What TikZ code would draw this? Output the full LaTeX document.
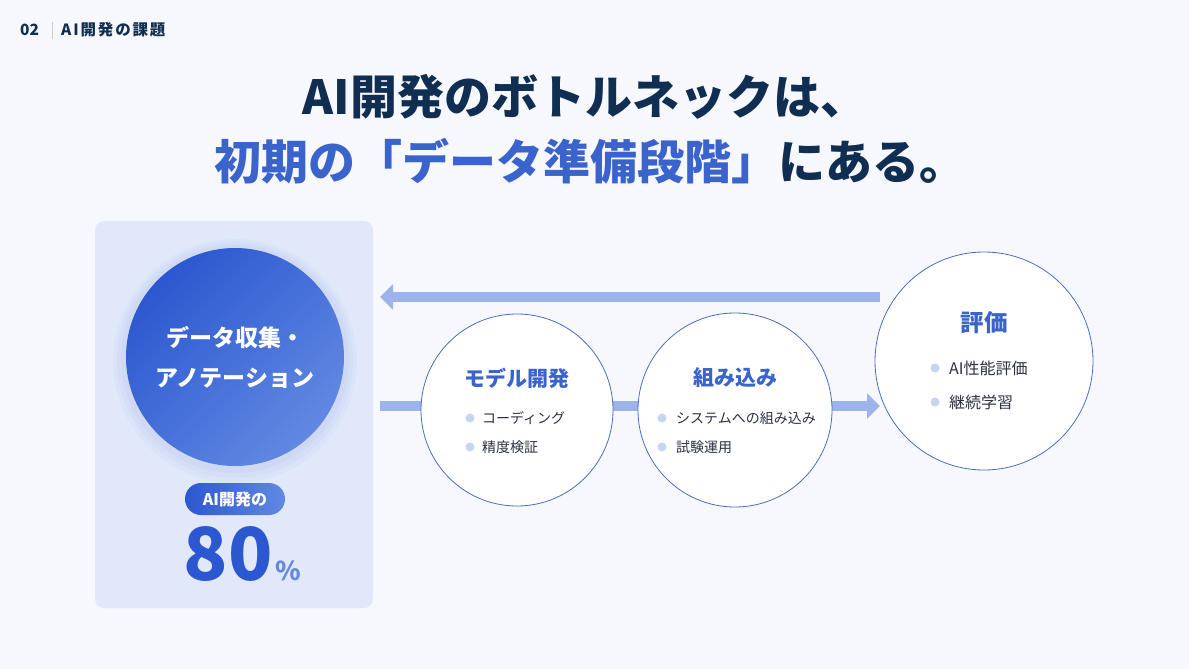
\documentclass[tikz,border=0pt]{standalone}
\usepackage{fontspec}
\setmainfont{Noto Sans CJK JP}
\usetikzlibrary{arrows.meta}

\definecolor{pagebg}{HTML}{F6F8FD}
\definecolor{panelbg}{HTML}{E1E8FA}
\definecolor{navy}{HTML}{102E52}
\definecolor{accent}{HTML}{3A64CB}
\definecolor{deepblue}{HTML}{2B58D0}
\definecolor{lightblue}{HTML}{6189E2}
\definecolor{arrowblue}{HTML}{9CB3EC}
\definecolor{ringblue}{HTML}{4D6DC1}
\definecolor{dotblue}{HTML}{C8D4F3}
\definecolor{pointgray}{HTML}{2C3242}
\definecolor{sepgray}{HTML}{C9CED8}

\begin{document}
\begin{tikzpicture}[x=1pt,y=-1pt]
\tikzset{headtext/.style={text=navy,font=\fontsize{15.5}{18}\selectfont\bfseries,inner sep=0pt}}
\tikzset{titletext/.style={text=navy,font=\fontsize{47}{54}\selectfont\bfseries}}
\tikzset{panel/.style={fill=panelbg,rounded corners=9pt,minimum width=278pt,minimum height=387pt}}
\tikzset{glow/.style={fill=deepblue,opacity=0.03}}
\tikzset{bigcircle/.style={circle,minimum size=218pt,left color=deepblue,right color=lightblue,shading angle=45,text=white,align=center,font=\fontsize{23}{40}\selectfont\bfseries}}
\tikzset{badge/.style={rounded corners=16pt,minimum width=100pt,minimum height=32pt,left color=deepblue,right color=lightblue,text=white,font=\fontsize{16}{18}\selectfont\bfseries}}
\tikzset{stage/.style={circle,draw=ringblue,line width=0.8pt,fill=white}}
\tikzset{stagetitle/.style={text=accent,font=\fontsize{21}{24}\selectfont\bfseries}}
\tikzset{dot/.style={circle,fill=dotblue,inner sep=0pt,minimum size=9pt}}
\tikzset{pointtext/.style={anchor=west,inner sep=0pt,text=pointgray,font=\fontsize{14}{16}\selectfont}}
\tikzset{flowline/.style={line width=10pt,draw=arrowblue}}
\tikzset{flowarrow/.style={flowline,-{Triangle[length=13pt,width=25pt]}}}

\fill[pagebg] (0,0) rectangle (1189,669);
\useasboundingbox (0,0) rectangle (1189,669);

\node[headtext,anchor=west] (secno) at (20,30) {02};
\draw[sepgray,line width=0.8pt] (52,22) -- (52,39);
\node[headtext,anchor=west,font=\fontsize{15.5}{18}\selectfont\bfseries\addfontfeature{LetterSpace=12}] (sectitle) at (61,30) {AI開発の課題};

\node[titletext] (headline) at (585,97) {AI開発のボトルネックは、};
\node[titletext] (subline) at (590,161) {\textcolor{accent}{初期の「データ準備段階」}にある。};

\node[panel] (panel) at (234,414.5) {};
\fill[glow] (235,361) circle (122pt);
\fill[glow] (235,360) circle (118pt);
\fill[glow] (235,359) circle (114pt);
\node[bigcircle] (collect) at (235,357) {データ収集・\\アノテーション};
\node[badge] (share) at (235,499) {AI開発の};
\node[anchor=base east,inner sep=0pt,text=deepblue,font=\fontsize{73}{80}\selectfont\bfseries] (sharenum) at (273,580) {80};
\node[anchor=base west,inner sep=0pt,text=lightblue,font=\fontsize{26}{30}\selectfont\bfseries] (shareunit) at (275,580) {\%};

\coordinate (backstart) at (880,297);
\coordinate (backend) at (380,297);
\coordinate (flowstart) at (380,406);
\coordinate (flowend) at (880,406);
\draw[flowarrow] (backstart) -- (backend);
\draw[flowarrow] (flowstart) -- (flowend);

\node[stage,minimum size=192pt] (model) at (517,410) {};
\node[stage,minimum size=194pt] (embed) at (735,410) {};
\node[stage,minimum size=218pt] (eval) at (984,361) {};

\node[stagetitle] (modeltitle) at (517,378) {モデル開発};
\node[dot] (modeldot1) at (470,418) {};
\node[pointtext] (modelpt1) at (482,418) {コーディング};
\node[dot] (modeldot2) at (470,447) {};
\node[pointtext] (modelpt2) at (482,447) {精度検証};

\node[stagetitle] (embedtitle) at (735,378) {組み込み};
\node[dot] (embeddot1) at (662,418) {};
\node[pointtext] (embedpt1) at (676,418) {システムへの組み込み};
\node[dot] (embeddot2) at (662,447) {};
\node[pointtext] (embedpt2) at (676,447) {試験運用};

\node[stagetitle,font=\fontsize{23.5}{26}\selectfont\bfseries] (evaltitle) at (984,323) {評価};
\node[dot] (evaldot1) at (935,368) {};
\node[pointtext,font=\fontsize{16}{18}\selectfont] (evalpt1) at (949,368) {AI性能評価};
\node[dot] (evaldot2) at (935,402) {};
\node[pointtext,font=\fontsize{16}{18}\selectfont] (evalpt2) at (949,402) {継続学習};

\end{tikzpicture}
\end{document}
